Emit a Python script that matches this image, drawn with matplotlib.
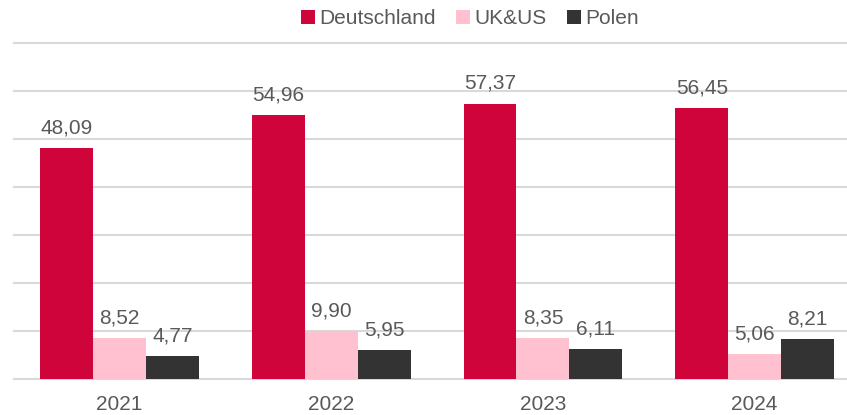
import matplotlib
matplotlib.use("Agg")
import matplotlib.pyplot as plt
import numpy as np

years = ["2021", "2022", "2023", "2024"]
series_names = ["Deutschland", "UK&US", "Polen"]
deutschland = [48.09, 54.96, 57.37, 56.45]
ukus = [8.52, 9.90, 8.35, 5.06]
polen = [4.77, 5.95, 6.11, 8.21]
colors = ["#CE043B", "#FFC0CF", "#333333"]

plt.rcParams['font.family'] = ['Liberation Sans', 'DejaVu Sans']
W, H = 847, 415
fig = plt.figure(figsize=(W/100, H/100), dpi=100)
left_px, base_px, top_px = 13.7, 378.5, 43
group_px = 211.7
ax = fig.add_axes([left_px/W, (H-base_px)/H, (W-left_px)/W, (base_px-top_px)/H])

x = np.arange(len(years))
width = 0.25
data = [deutschland, ukus, polen]
text_color = "#595959"
for i, (vals, c, name) in enumerate(zip(data, colors, series_names)):
    pos = x + (i-1)*width
    bars = ax.bar(pos, vals, width, color=c, label=name, zorder=3)
    for xp, v in zip(pos, vals):
        ax.annotate(f"{v:.2f}".replace(".", ","), (xp, v), xytext=(0, 10.5),
                    textcoords="offset points", ha="center", va="baseline",
                    fontsize=15, color=text_color)

ax.set_xlim(-0.5, -0.5 + (W-left_px)/group_px)
ax.set_ylim(0, 70)
ax.set_yticks(np.arange(0, 71, 10))
ax.yaxis.grid(True, color="#D9D9D9", linewidth=1.5, zorder=0)
ax.set_yticklabels([])
ax.tick_params(axis='y', length=0)
ax.set_xticks(x)
ax.set_xticklabels(years, fontsize=15, color=text_color)
ax.tick_params(axis='x', length=0, pad=12)
for s in ax.spines.values():
    s.set_visible(False)
ax.set_axisbelow(True)
for line in ax.get_ygridlines():
    line.set_clip_on(False)

fig.legend(loc="center", bbox_to_anchor=(470/W, 1-19/H), ncol=3, frameon=False,
           fontsize=15, labelcolor=text_color, handlelength=0.65, handleheight=0.65,
           handletextpad=0.2, columnspacing=1.0, borderpad=0)

fig.savefig("out.png", dpi=100)
